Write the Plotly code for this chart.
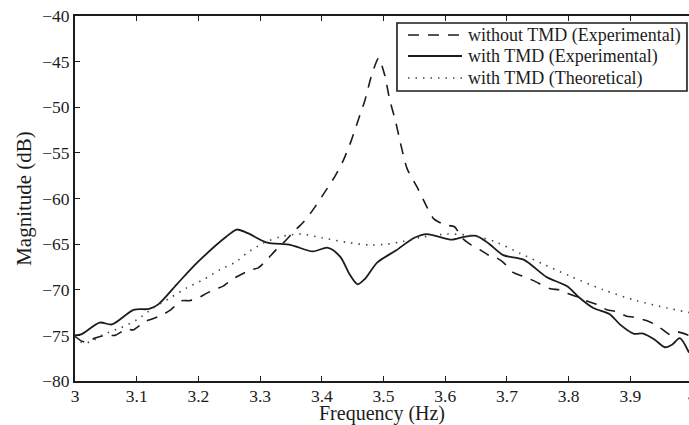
import plotly.graph_objects as go

# ---- data ----
f_without = [3.000, 3.010, 3.020, 3.032, 3.050, 3.065, 3.084, 3.094, 3.113, 3.125,
             3.143, 3.155, 3.173, 3.185, 3.197, 3.213, 3.229, 3.240, 3.256, 3.270,
             3.286, 3.297, 3.310, 3.326, 3.340, 3.355, 3.370, 3.385, 3.400, 3.421,
             3.435, 3.448, 3.459, 3.470, 3.481, 3.492, 3.502, 3.510, 3.519, 3.527,
             3.538, 3.554, 3.565, 3.581, 3.600, 3.615, 3.627, 3.640, 3.656, 3.670,
             3.683, 3.694, 3.710, 3.725, 3.743, 3.770, 3.785, 3.802, 3.815, 3.832,
             3.845, 3.862, 3.878, 3.894, 3.905, 3.927, 3.937, 3.953, 3.964, 3.975,
             3.995]
m_without = [-75.1, -75.6, -75.8, -75.3, -75.0, -75.0, -74.3, -74.4, -73.5, -73.2,
             -72.7, -72.2, -71.2, -71.2, -71.0, -70.4, -69.9, -69.6, -68.8, -68.3,
             -67.8, -67.6, -66.8, -65.6, -64.7, -63.6, -62.6, -61.3, -59.8, -57.6,
             -55.8, -53.6, -51.4, -49.2, -46.4, -44.6, -46.5, -49.2, -51.4, -53.8,
             -56.7, -58.7, -60.2, -62.2, -62.9, -63.1, -64.3, -65.0, -65.6, -66.2,
             -66.5, -67.0, -68.1, -68.5, -69.0, -69.9, -70.0, -70.5, -70.8, -71.3,
             -71.6, -72.2, -72.4, -72.9, -73.0, -73.4, -73.7, -74.4, -74.9, -74.6,
             -75.0]

f_with = [3.000, 3.010, 3.040, 3.060, 3.095, 3.120, 3.135, 3.165, 3.200, 3.245,
          3.262, 3.280, 3.310, 3.350, 3.385, 3.410, 3.430, 3.445, 3.458, 3.470,
          3.490, 3.520, 3.550, 3.570, 3.590, 3.610, 3.630, 3.650, 3.670, 3.694,
          3.727, 3.764, 3.797, 3.818, 3.840, 3.867, 3.883, 3.905, 3.921, 3.940,
          3.956, 3.968, 3.980, 3.995]
m_with = [-75.0, -74.9, -73.6, -73.8, -72.2, -72.1, -71.6, -69.4, -66.9, -64.2,
          -63.4, -63.8, -64.8, -65.1, -65.8, -65.4, -66.4, -68.3, -69.4, -68.8,
          -67.0, -65.7, -64.3, -63.9, -64.2, -64.5, -64.2, -64.1, -64.9, -66.2,
          -66.7, -68.6, -69.6, -70.9, -72.0, -72.7, -73.8, -74.8, -74.8, -75.5,
          -76.3, -76.0, -75.3, -76.9]

f_theory = [3.000, 3.012, 3.025, 3.046, 3.073, 3.100, 3.127, 3.154, 3.181, 3.208,
            3.235, 3.262, 3.278, 3.305, 3.332, 3.365, 3.400, 3.440, 3.478, 3.505,
            3.532, 3.565, 3.602, 3.635, 3.660, 3.683, 3.721, 3.759, 3.802, 3.856,
            3.910, 3.960, 3.995]
m_theory = [-75.1, -75.8, -75.7, -74.9, -74.2, -73.3, -72.0, -70.9, -69.8, -68.9,
            -67.8, -66.9, -66.0, -64.9, -64.2, -63.9, -64.3, -64.8, -65.1, -65.0,
            -64.7, -64.2, -63.9, -64.0, -64.3, -64.8, -66.0, -67.2, -68.5, -70.0,
            -71.2, -72.0, -72.5]

series_names = ["without TMD (Experimental)", "with TMD (Experimental)",
                "with TMD (Theoretical)"]

x_ticks = [3.0, 3.1, 3.2, 3.3, 3.4, 3.5, 3.6, 3.7, 3.8, 3.9]
x_ticktext = ["3", "3.1", "3.2", "3.3", "3.4", "3.5", "3.6", "3.7", "3.8", "3.9"]
y_ticks = [-80, -75, -70, -65, -60, -55, -50, -45, -40]

FONT = "Liberation Serif"
INK = "#1c1c1c"
DASHES = ["11px,9px", "solid", "1.5px,6px"]
WIDTHS = [1.6, 1.8, 1.6]
COLORS = [INK, INK, "#444444"]

fig = go.Figure()
fig.add_trace(go.Scatter(x=f_without, y=m_without, mode="lines", name=series_names[0],
                         line=dict(color=COLORS[0], width=WIDTHS[0], dash=DASHES[0],
                                   shape="spline", smoothing=0.6)))
fig.add_trace(go.Scatter(x=f_with, y=m_with, mode="lines", name=series_names[1],
                         line=dict(color=COLORS[1], width=WIDTHS[1], dash=DASHES[1],
                                   shape="spline", smoothing=0.8)))
fig.add_trace(go.Scatter(x=f_theory, y=m_theory, mode="lines", name=series_names[2],
                         line=dict(color=COLORS[2], width=WIDTHS[2], dash=DASHES[2],
                                   shape="spline", smoothing=0.8)))

# ---- custom legend box (MATLAB style, tight rows) ----
shapes = [dict(type="rect", xref="paper", yref="paper",
               x0=0.5244, x1=0.9967, y0=0.7945, y1=0.9808,
               line=dict(color=INK, width=1.6), fillcolor="white", layer="above")]
annotations = []
row_y = [0.9479, 0.8904, 0.8301]
for name, yy, dsh, w, c in zip(series_names, row_y, DASHES, WIDTHS, COLORS):
    shapes.append(dict(type="line", xref="paper", yref="paper",
                       x0=0.5423, x1=0.6303, y0=yy, y1=yy,
                       line=dict(color=c, width=w, dash=dsh), layer="above"))
    annotations.append(dict(text=name, xref="paper", yref="paper", x=0.6368, y=yy,
                            xanchor="left", yanchor="middle", showarrow=False,
                            font=dict(family=FONT, size=18, color=INK)))

annotations.append(dict(text="4", xref="paper", yref="paper", x=1.0 / 0.995, y=0,
                        xanchor="center", yanchor="top", yshift=-3, showarrow=False,
                        font=dict(family=FONT, size=17.5, color=INK)))

fig.update_layout(
    width=689, height=425,
    margin=dict(l=75, r=0, t=16, b=44),
    paper_bgcolor="white", plot_bgcolor="white",
    font=dict(family=FONT, size=17.5, color=INK),
    showlegend=False,
    xaxis=dict(range=[3, 3.995], tickvals=x_ticks, ticktext=x_ticktext,
               ticks="inside", ticklen=5, tickwidth=1.2, tickcolor=INK,
               showline=True, linecolor=INK, linewidth=1.8, mirror="ticks",
               showgrid=False, zeroline=False, ticklabelstandoff=-2,
               tickfont=dict(family=FONT, size=17.5, color=INK),
               title=dict(text="Frequency (Hz)", standoff=1,
                          font=dict(family=FONT, size=20, color=INK))),
    yaxis=dict(range=[-80, -40], tickvals=y_ticks,
               ticks="inside", ticklen=5, tickwidth=1.2, tickcolor=INK,
               showline=True, linecolor=INK, linewidth=1.8, mirror=False,
               showgrid=False, zeroline=False,
               tickfont=dict(family=FONT, size=17.5, color=INK),
               title=dict(text="Magnitude (dB)", standoff=5,
                          font=dict(family=FONT, size=21, color=INK))),
    shapes=shapes,
    annotations=annotations,
)

fig.write_html("out.html")
